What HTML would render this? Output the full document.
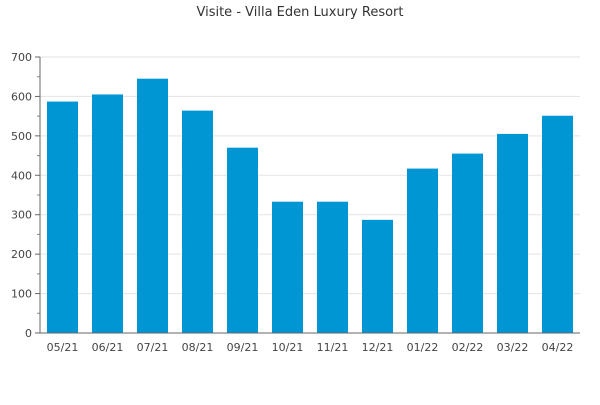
<!DOCTYPE html>
<html><head><meta charset="utf-8"><style>
body{margin:0;background:#fff}
svg{font-family:"DejaVu Sans","Liberation Sans",sans-serif}
</style></head><body>
<svg id="c" width="600" height="400">
<text x="300" y="16" text-anchor="middle" font-size="13" fill="#333">Visite - Villa Eden Luxury Resort</text>
<g id="grid"></g><g id="bars"></g><g id="axes"></g>
</svg>
<script>
const categories=["05/21","06/21","07/21","08/21","09/21","10/21","11/21","12/21","01/22","02/22","03/22","04/22"];
const visits=[587,605,645,564,470,333,333,287,417,455,505,551];
const yTicks=[0,100,200,300,400,500,600,700];
const NS="http://www.w3.org/2000/svg";
const x0=40,x1=580,y0=333,y1=57,yMax=700;
const y=v=>y0-(v/yMax)*(y0-y1);
const band=(x1-x0)/categories.length;
const bx=i=>x0+band*i;
function mk(t,a,p){const e=document.createElementNS(NS,t);for(const k in a)e.setAttribute(k,a[k]);p.appendChild(e);return e;}
const g=document.getElementById('grid'),b=document.getElementById('bars'),ax=document.getElementById('axes');
yTicks.forEach(v=>{
 const l=mk('line',{x1:x0,x2:x1,y1:y(v),y2:y(v),stroke:'#e3e3e3'},g);
 
 
 const t=mk('text',{x:x0-8,y:y(v)+4,'text-anchor':'end','font-size':11,fill:'#444'},ax);
 t.textContent=v;
 
 
 mk('line',{x1:x0-5,x2:x0,y1:y(v),y2:y(v),stroke:'#666'},ax);
 if(v<yMax)mk('line',{x1:x0-3,x2:x0,y1:y(v+50),y2:y(v+50),stroke:'#888'},ax);
});
categories.forEach((c,i)=>{
 const w=31,cx=bx(i)+band/2;
 const r=mk('rect',{x:cx-w/2,y:y(visits[i]),width:w,height:y0-y(visits[i]),fill:'#0096d4'},b);
 
 
 const t=mk('text',{x:cx,y:y0+18,'text-anchor':'middle','font-size':11,fill:'#444'},ax);
 t.textContent=c;
 
 
});
const ya=mk('line',{x1:x0,x2:x0,y1:y1,y2:y0,stroke:'#666'},ax);


const xa=mk('line',{x1:x0,x2:x1,y1:y0,y2:y0,stroke:'#666'},ax);


</script>
</body></html>
